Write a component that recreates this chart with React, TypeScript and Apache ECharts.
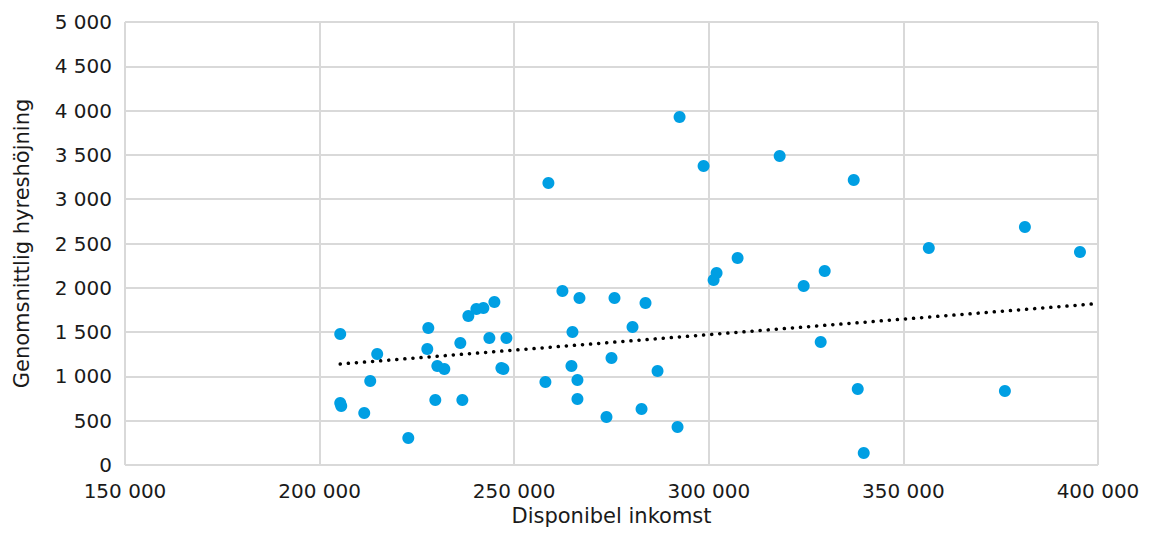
import React, { useEffect, useRef } from "react";
import * as echarts from "echarts";

const incomes: number[] = [
  205300, 205300, 205560, 211470, 213010, 214800, 222790, 227670, 227930, 229730,
  230250, 232050, 236160, 236680, 238220, 240280, 242080, 243620, 244910, 246710,
  247220, 248000, 258020, 258790, 262390, 264710, 264970, 266250, 266250, 266770,
  273710, 275000, 275770, 280400, 282720, 283740, 286830, 291970, 292490, 298660,
  301230, 302000, 307400, 318210, 324380, 328750, 329780, 337240, 338270, 339810,
  356530, 376080, 381220, 395370,
];
const rentIncreases: number[] = [
  1479, 700, 666, 587, 948, 1253, 305, 1309, 1546, 734,
  1117, 1084, 1377, 734, 1682, 1761, 1772, 1433, 1840, 1095,
  1084, 1433, 937, 3183, 1964, 1117, 1501, 959, 745, 1885,
  542, 1208, 1885, 1558, 632, 1829, 1061, 429, 3928, 3375,
  2088, 2167, 2336, 3488, 2020, 1388, 2190, 3217, 858, 135,
  2449, 835, 2686, 2404,
];
const trendX: number[] = [205300, 400000];
const trendY: number[] = [1140, 1822];

const fmt = (v: number) => String(Math.round(v)).replace(/\B(?=(\d{3})+(?!\d))/g, " ");

export default function App() {
  const ref = useRef<HTMLDivElement>(null);
  useEffect(() => {
    if (!ref.current) return;
    const chart = echarts.init(ref.current, null, { renderer: "svg" });
    const font = "DejaVu Sans";
    const textColor = "#1a1a1a";
    chart.setOption({
      animation: false,
      grid: { left: 125, right: 51, top: 22, bottom: 70 },
      xAxis: {
        type: "value",
        min: 150000,
        max: 400000,
        interval: 50000,
        name: "Disponibel inkomst",
        nameLocation: "middle",
        nameGap: 40,
        nameTextStyle: { fontFamily: font, fontSize: 21, color: textColor },
        axisLine: { show: false },
        axisTick: { show: false },
        axisLabel: { formatter: fmt, fontFamily: font, fontSize: 20, color: textColor, margin: 16 },
        splitLine: { show: true, lineStyle: { color: "#d9d9d9", width: 2 } },
      },
      yAxis: {
        type: "value",
        min: 0,
        max: 5000,
        interval: 500,
        name: "Genomsnittlig hyreshöjning",
        nameLocation: "middle",
        nameGap: 93,
        nameTextStyle: { fontFamily: font, fontSize: 21, color: textColor },
        axisLine: { show: false },
        axisTick: { show: false },
        axisLabel: { formatter: fmt, fontFamily: font, fontSize: 20, color: textColor, margin: 13 },
        splitLine: { show: true, lineStyle: { color: "#d9d9d9", width: 2 } },
      },
      series: [
        {
          type: "scatter",
          data: incomes.map((x, i) => [x, rentIncreases[i]]),
          symbolSize: 12,
          itemStyle: { color: "#009fe3", opacity: 1 },
          z: 3,
        },
        {
          type: "line",
          data: trendX.map((x, i) => [x, trendY[i]]),
          symbol: "none",
          lineStyle: { color: "#000", width: 3.5, type: [0.1, 8], cap: "round" },
          z: 2,
        },
      ],
    });
    return () => chart.dispose();
  }, []);
  return (
    <div
      ref={ref}
      style={{ position: "fixed", left: 0, top: 0, width: 1149, height: 535, background: "#fff" }}
    />
  );
}
